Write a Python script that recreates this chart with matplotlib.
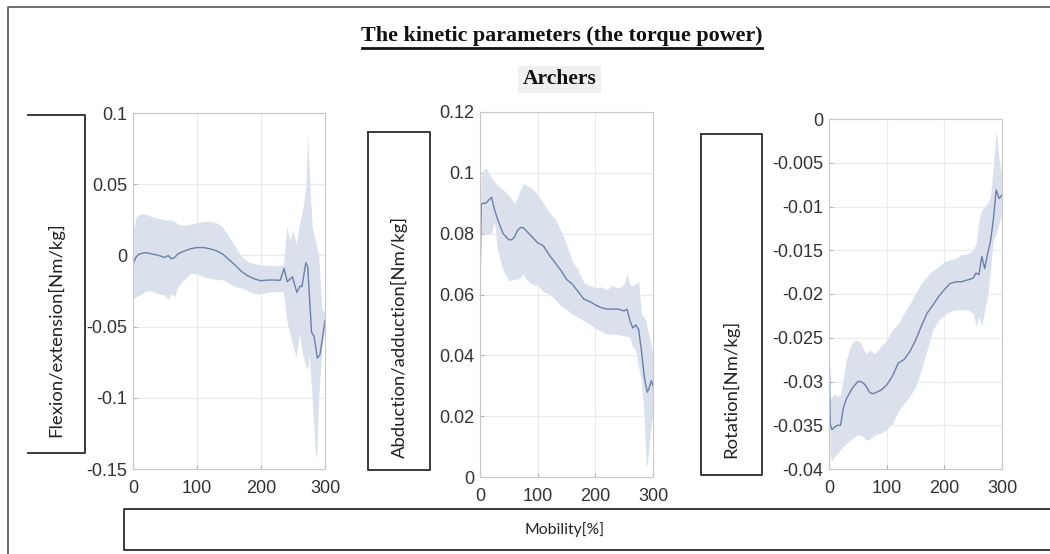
import numpy as np
import matplotlib
matplotlib.use("Agg")
import matplotlib.pyplot as plt
from matplotlib.lines import Line2D
from matplotlib.patches import Rectangle
from matplotlib.ticker import FuncFormatter

# --- data (x = Mobility[%]) ---
title = "The kinetic parameters (the torque power)"
subtitle = "Archers"
xlabel = "Mobility[%]"
ylabels = ["Flexion/extension[Nm/kg]", "Abduction/adduction[Nm/kg]", "Rotation[Nm/kg]"]
xticks = [0, 100, 200, 300]

# flexion / extension
x1 = [0, 5, 10, 20, 30, 40, 50, 55, 60, 65, 70, 80, 90, 100, 110, 120, 130, 140, 150, 160,
      170, 180, 190, 200, 210, 220, 230, 236, 241, 249, 256, 261, 264, 270, 273, 279, 283,
      288, 292, 300]
m1 = [-0.006, -0.001, 0.001, 0.002, 0.001, 0.0, -0.0015, 0.0, -0.0025, -0.0015, 0.001, 0.003,
      0.0047, 0.0055, 0.0055, 0.0047, 0.0033, 0.001, -0.003, -0.007, -0.0115, -0.0145, -0.0166,
      -0.0178, -0.0173, -0.0173, -0.0175, -0.0092, -0.0185, -0.015, -0.026, -0.0215, -0.022,
      -0.0052, -0.008, -0.054, -0.057, -0.072, -0.07, -0.046]
x1b = [0, 5, 10, 20, 30, 40, 50, 55, 60, 65, 70, 80, 90, 100, 110, 120, 130, 140, 150, 160,
       170, 180, 190, 200, 210, 220, 230, 235, 240, 245, 250, 255, 260, 265, 270, 273, 275, 280,
       285, 287, 290, 295, 300]
u1 = [0.017, 0.027, 0.029, 0.029, 0.027, 0.026, 0.025, 0.025, 0.025, 0.024, 0.022, 0.021, 0.022,
      0.023, 0.024, 0.024, 0.023, 0.020, 0.013, 0.006, -0.001, -0.0045, -0.006, -0.0068, -0.007,
      -0.007, -0.007, -0.007, 0.020, 0.011, 0.018, 0.008, 0.022, 0.032, 0.048, 0.085, 0.062,
      0.020, 0.011, 0.006, 0.0015, -0.038, -0.040]
l1 = [-0.031, -0.029, -0.028, -0.025, -0.025, -0.027, -0.028, -0.031, -0.027, -0.029, -0.022,
      -0.017, -0.0126, -0.013, -0.015, -0.016, -0.017, -0.017, -0.0196, -0.022, -0.023, -0.025,
      -0.0266, -0.027, -0.026, -0.0255, -0.0255, -0.0255, -0.045, -0.055, -0.064, -0.071, -0.055,
      -0.069, -0.078, -0.080, -0.069, -0.101, -0.139, -0.142, -0.101, -0.066, -0.052]

# abduction / adduction
x2 = [0, 2, 5, 10, 15, 20, 25, 30, 35, 40, 45, 50, 55, 60, 65, 70, 75, 80, 90, 100, 110, 120,
      130, 140, 150, 160, 170, 180, 190, 200, 210, 220, 230, 240, 250, 255, 260, 265, 270, 275,
      280, 285, 290, 293, 297, 300]
m2 = [0.062, 0.0896, 0.090, 0.090, 0.091, 0.092, 0.088, 0.085, 0.0825, 0.080, 0.079, 0.078,
      0.078, 0.079, 0.081, 0.082, 0.082, 0.081, 0.079, 0.077, 0.076, 0.073, 0.0705, 0.068, 0.065,
      0.0634, 0.061, 0.0585, 0.0577, 0.0566, 0.0557, 0.0552, 0.0552, 0.0552, 0.0546, 0.0552,
      0.0514, 0.049, 0.050, 0.0486, 0.0415, 0.0328, 0.0279, 0.029, 0.0317, 0.030]
x2b = [0, 2, 5, 10, 15, 20, 25, 30, 40, 50, 60, 65, 70, 75, 80, 90, 100, 110, 120, 130, 140,
       150, 160, 170, 180, 190, 200, 210, 220, 230, 240, 250, 255, 260, 265, 270, 275, 280, 285,
       288, 290, 295, 300]
u2 = [0.085, 0.0995, 0.1005, 0.1016, 0.100, 0.0984, 0.097, 0.096, 0.0945, 0.0927, 0.090, 0.0918,
      0.0945, 0.0964, 0.096, 0.095, 0.093, 0.090, 0.087, 0.085, 0.081, 0.0765, 0.071, 0.068,
      0.064, 0.063, 0.0623, 0.0625, 0.0617, 0.063, 0.062, 0.0634, 0.067, 0.063, 0.063, 0.0635,
      0.0645, 0.0535, 0.0525, 0.051, 0.049, 0.045, 0.040]
l2 = [0.062, 0.080, 0.080, 0.080, 0.080, 0.080, 0.084, 0.075, 0.068, 0.0645, 0.065, 0.065,
      0.0655, 0.0667, 0.065, 0.0634, 0.063, 0.061, 0.060, 0.0585, 0.0563, 0.0552, 0.0535, 0.0525,
      0.0514, 0.0503, 0.049, 0.0479, 0.047, 0.047, 0.0468, 0.0464, 0.0462, 0.046, 0.0426, 0.0415,
      0.036, 0.0317, 0.0186, 0.0044, 0.0033, 0.014, 0.0208]

# rotation
x3 = [0, 2, 5, 10, 15, 20, 25, 30, 35, 40, 45, 50, 55, 60, 65, 70, 75, 80, 90, 100, 110, 120,
      130, 140, 150, 160, 170, 180, 190, 200, 210, 220, 230, 240, 250, 255, 260, 265, 270, 275,
      280, 285, 290, 295, 300]
m3 = [-0.0253, -0.0348, -0.0355, -0.0352, -0.035, -0.035, -0.033, -0.032, -0.0314, -0.0308,
      -0.0304, -0.030, -0.030, -0.0302, -0.0306, -0.0312, -0.0314, -0.0313, -0.031, -0.0304,
      -0.0294, -0.0279, -0.0275, -0.0266, -0.0253, -0.0237, -0.0222, -0.0213, -0.0203, -0.0195,
      -0.0188, -0.0186, -0.0186, -0.0184, -0.0182, -0.0176, -0.0178, -0.0157, -0.0171, -0.0154,
      -0.014, -0.0115, -0.0081, -0.0091, -0.0087]
x3b = [0, 2, 5, 10, 15, 20, 25, 30, 35, 40, 45, 50, 55, 60, 65, 70, 80, 90, 100, 110, 120, 130,
       140, 150, 160, 170, 180, 190, 200, 210, 220, 230, 240, 250, 255, 260, 265, 270, 275, 280,
       285, 290, 295, 300]
u3 = [-0.0253, -0.032, -0.0317, -0.0314, -0.0317, -0.0315, -0.0295, -0.0275, -0.0264, -0.0256,
      -0.0253, -0.0253, -0.0256, -0.0264, -0.0268, -0.0264, -0.0268, -0.026, -0.0253, -0.0241,
      -0.0234, -0.0222, -0.0211, -0.0199, -0.0188, -0.018, -0.0173, -0.0169, -0.0163, -0.0161,
      -0.0159, -0.0155, -0.0154, -0.015, -0.0142, -0.0115, -0.0104, -0.010, -0.0096, -0.0089,
      -0.0054, -0.0013, -0.0047, -0.0066]
l3 = [-0.0253, -0.0386, -0.039, -0.0386, -0.0382, -0.0378, -0.0374, -0.0371, -0.0368, -0.0365,
      -0.0363, -0.0361, -0.0362, -0.0363, -0.0367, -0.0366, -0.0361, -0.0359, -0.0355, -0.0348,
      -0.0334, -0.0325, -0.0317, -0.0306, -0.0287, -0.0264, -0.0241, -0.023, -0.0224, -0.022,
      -0.0218, -0.0218, -0.0218, -0.0222, -0.0237, -0.0226, -0.0237, -0.0218, -0.0203, -0.0173,
      -0.0138, -0.0131, -0.0119, -0.0108]

yticks = [
    [-0.15, -0.1, -0.05, 0, 0.05, 0.1],
    [0, 0.02, 0.04, 0.06, 0.08, 0.1, 0.12],
    [-0.04, -0.035, -0.03, -0.025, -0.02, -0.015, -0.01, -0.005, 0],
]

W, H = 1050, 554
LINE = "#6c7eaa"
FILL = "#dbe1ec"


def fx(px):
    return px / W


def fy(py):
    return 1 - py / H


def fig_line(fig, xs, ys, lw=1.4, color="#3a3a3a"):
    fig.add_artist(Line2D([fx(v) for v in xs], [fy(v) for v in ys], lw=lw, color=color,
                          transform=fig.transFigure))


fig = plt.figure(figsize=(W / 100, H / 100), dpi=100)

# outer frame (top + left only)
fig_line(fig, [8, 8, W], [H, 7, 7], lw=1.2, color="#555555")

# titles
fig.text(fx(562), fy(36), title, ha="center", va="center", fontsize=15.8,
         fontweight="bold", family="Liberation Serif", color="#111111")
fig_line(fig, [362, 762], [48, 48], lw=2.0, color="#111111")
fig.add_artist(Rectangle((fx(518), fy(93)), fx(83), 27 / H, transform=fig.transFigure,
                         facecolor="#f0f0f0", edgecolor="none"))
fig.text(fx(560), fy(79), subtitle, ha="center", va="center", fontsize=15.5,
         fontweight="bold", family="Liberation Serif", color="#111111")

# axes
rects = [(133, 113, 325, 469), (480, 112, 653, 477), (829, 119, 1002, 469)]
series = [(x1, m1, x1b, u1, l1), (x2, m2, x2b, u2, l2), (x3, m3, x3b, u3, l3)]
for (left, top, right, bottom), (xm, ym, xb, ub, lb), yt in zip(rects, series, yticks):
    ax = fig.add_axes([fx(left), fy(bottom), (right - left) / W, (bottom - top) / H])
    ax.fill_between(xb, lb, ub, color=FILL, lw=0)
    ax.plot(xm, ym, color=LINE, lw=1.0)
    ax.set_xlim(0, 300)
    ax.set_ylim(yt[0], yt[-1])
    ax.set_xticks(xticks)
    ax.set_yticks(yt)
    ax.yaxis.set_major_formatter(FuncFormatter(lambda v, p: "%g" % v))
    ax.grid(True, color="#ebebeb", lw=0.8)
    ax.set_axisbelow(True)
    for s in ax.spines.values():
        s.set_color("#c8c8c8")
        s.set_linewidth(0.8)
    ax.tick_params(direction="in", length=3, color="#b0b0b0", labelsize=13,
                   labelcolor="#333333", top=False, right=False)
    ax.tick_params(axis="x", pad=8)
    ax.tick_params(axis="y", pad=4)
    for t in ax.get_xticklabels() + ax.get_yticklabels():
        t.set_family("Liberation Sans")

# y label boxes
fig_line(fig, [28, 85, 85, 28], [115, 115, 453, 453])
fig.text(fx(56), fy(330), ylabels[0], rotation=90, ha="center", va="center",
         fontsize=13.3, family="Lato", color="#222222")
fig_line(fig, [368, 430, 430, 368, 368], [132, 132, 470, 470, 132])
fig.text(fx(399), fy(337), ylabels[1], rotation=90, ha="center", va="center",
         fontsize=13.3, family="Lato", color="#222222")
fig_line(fig, [701, 762, 762, 701, 701], [134, 134, 475, 475, 134])
fig.text(fx(731), fy(389), ylabels[2], rotation=90, ha="center", va="center",
         fontsize=13.3, family="Lato", color="#222222")

# x label box
fig_line(fig, [W, 124, 124, W], [509, 509, 550, 550])
fig.text(fx(565), fy(530), xlabel, ha="center", va="center", fontsize=11.3,
         family="Lato", color="#222222")

fig.savefig("out.png", dpi=100)
